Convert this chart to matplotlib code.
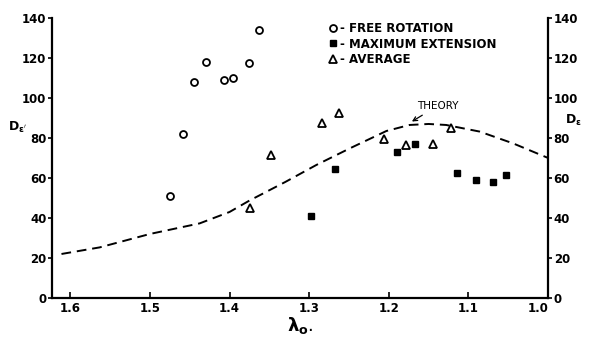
import matplotlib
matplotlib.use('Agg')
import matplotlib.pyplot as plt
import numpy as np

# free rotation (open circles)
free_lam = [1.475, 1.459, 1.444, 1.430, 1.407, 1.396, 1.376, 1.363]
free_d = [51, 82, 108, 118, 109, 110, 117.5, 134]

# maximum extension (filled squares)
maxext_lam = [1.298, 1.268, 1.190, 1.167, 1.115, 1.090, 1.069, 1.053]
maxext_d = [41, 64.5, 73, 77, 62.5, 59, 58, 61.5]

# average (open triangles)
avg_lam = [1.374, 1.348, 1.284, 1.263, 1.206, 1.179, 1.144, 1.122]
avg_d = [45, 71.5, 87.5, 92.5, 79.5, 76.5, 77, 85]

# theory (dashed)
th_lam = [1.611, 1.563, 1.50, 1.4375, 1.40, 1.375, 1.33, 1.291, 1.249, 1.203,
          1.174, 1.15, 1.128, 1.086, 1.044, 1.0]
th_d = [22, 25.3, 32, 37.3, 43, 48.7, 58, 66.5, 74.8, 83.5,
        86.5, 87, 86.5, 83.2, 77.3, 70]

xticks = [1.6, 1.5, 1.4, 1.3, 1.2, 1.1, 1.0]
xticklabels = ['1.6', '1.5', '1.4', '1.3', '1.2', '1.1', '1.0']
yticks = [0, 20, 40, 60, 80, 100, 120, 140]

plt.rcParams['font.family'] = 'DejaVu Sans'
plt.rcParams['font.weight'] = 'bold'
plt.rcParams['mathtext.default'] = 'bf'

fig = plt.figure(figsize=(5.9, 3.39), dpi=100)
ax = fig.add_axes([0.088, 0.121, 0.841, 0.826])

ax.plot(th_lam, th_d, color='black', lw=1.4, linestyle=(0, (5, 3)))
ax.plot(free_lam, free_d, 'o', ms=5, mfc='white', mec='black', mew=1.3, ls='none',
        label='- FREE ROTATION')
ax.plot(maxext_lam, maxext_d, 's', ms=5, color='black', ls='none',
        label='- MAXIMUM EXTENSION')
ax.plot(avg_lam, avg_d, '^', ms=5.5, mfc='white', mec='black', mew=1.3, ls='none',
        label='- AVERAGE')

ax.set_xlim(1.623, 1.0)
ax.set_ylim(0, 140)
ax.set_xticks(xticks)
ax.set_xticklabels(xticklabels)
ax.get_xticklabels()[-1].set_horizontalalignment('right')
ax.set_yticks(yticks)

for s in ['left', 'right', 'bottom']:
    ax.spines[s].set_linewidth(1.6)
ax.spines['top'].set_visible(False)

ax.tick_params(axis='x', direction='in', length=4, width=1.2, labelsize=8.5, pad=3)
ax.tick_params(axis='y', direction='out', length=3, width=1.2, labelsize=8.5, pad=1,
               left=True, right=True, labelleft=True, labelright=True)

ax.text(-0.088, 0.61, r"D$_{\epsilon'}$", transform=ax.transAxes, fontsize=9,
        ha='left', va='center')
ax.text(1.034, 0.635, r"D$_{\epsilon}$", transform=ax.transAxes, fontsize=9,
        ha='left', va='center')
ax.set_xlabel(r'$\lambda_o$.', fontsize=13, labelpad=0)

ax.annotate('THEORY', xy=(1.174, 87.5), xytext=(1.165, 96),
            fontsize=7.5, fontweight='normal', ha='left', va='center',
            arrowprops=dict(arrowstyle='->', color='black', lw=0.9))

leg = ax.legend(loc='upper left', bbox_to_anchor=(0.54, 1.01), frameon=False,
                fontsize=8.5, handletextpad=0.1, handlelength=1.0,
                labelspacing=0.2, borderaxespad=0.2)

fig.savefig('out.png', dpi=100)
